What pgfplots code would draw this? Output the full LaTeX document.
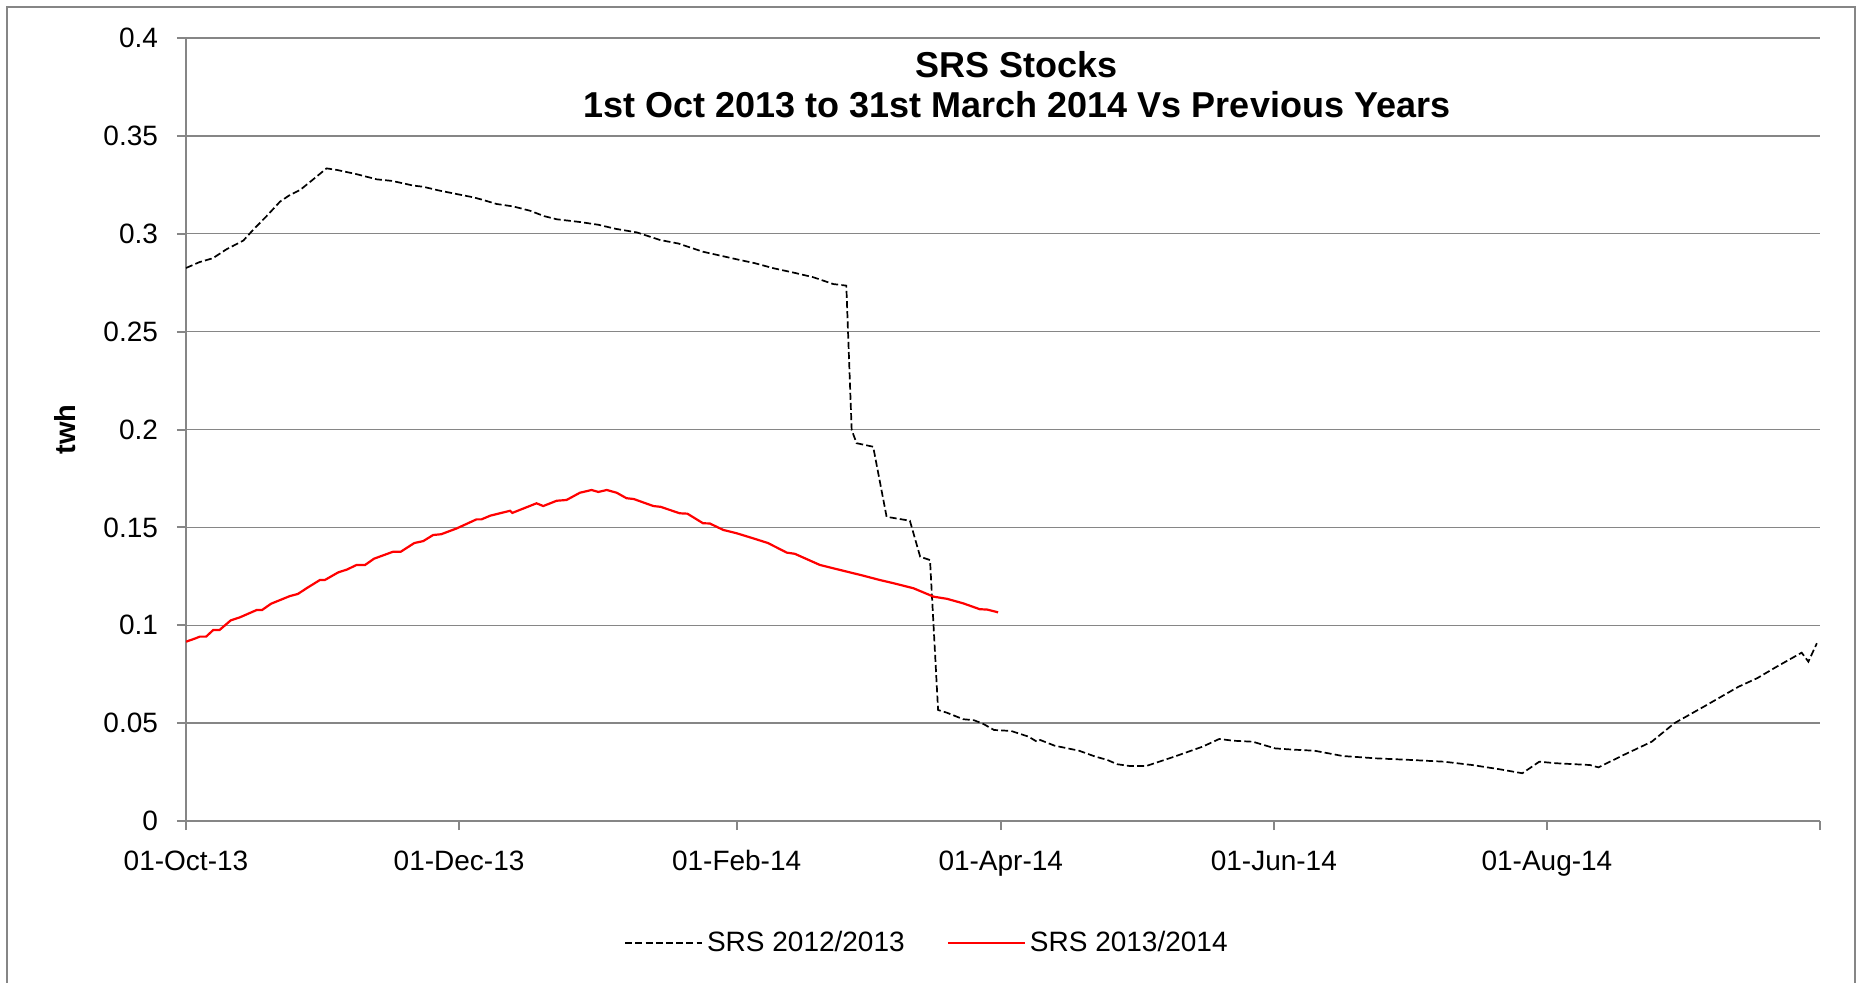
\documentclass[border=0pt]{standalone}
\usepackage{pgfplots}
\pgfplotsset{compat=1.18}
\usepackage{fontspec}
\setmainfont{Liberation Sans}
\definecolor{gridgray}{RGB}{134,134,134}
\begin{document}
\begin{tikzpicture}
\path[use as bounding box] (-93pt,-80.5pt) rectangle (837pt,410.5pt);
\draw[gridgray, line width=0.7pt] (-89.5pt,-82pt) -- (-89.5pt,407pt) -- (834.5pt,407pt) -- (834.5pt,-82pt);
\begin{axis}[
  at={(0pt,0pt)}, anchor=south west, scale only axis,
  width=817pt, height=391.5pt,
  xmin=0, xmax=365, ymin=0, ymax=0.4,
  axis x line*=bottom, axis y line*=left,
  axis line style={gridgray, line width=1.2pt},
  ymajorgrids, grid style={gridgray, line width=0.7pt},
  tick align=outside, major tick length=4.5pt,
  major tick style={gridgray, line width=1pt},
  xtick={0,61,123,182,243,304,365},
  xticklabels={01-Oct-13,01-Dec-13,01-Feb-14,01-Apr-14,01-Jun-14,01-Aug-14,},
  ytick={0,0.05,0.1,0.15,0.2,0.25,0.3,0.35,0.4},
  yticklabels={0,0.05,0.1,0.15,0.2,0.25,0.3,0.35,0.4},
  tick label style={font=\fontsize{14}{16}\selectfont},
  xticklabel style={anchor=base, yshift=-20pt},
  yticklabel style={xshift=-6pt},
  ylabel={twh},
  ylabel style={at={(axis description cs:-0.074,0.5)}, anchor=center, font=\bfseries\fontsize{14.5}{16}\selectfont},
  legend style={at={(0.4541,-0.1558)}, anchor=center, draw=none, fill=none,
    font=\fontsize{14}{16}\selectfont,
    /tikz/every even column/.append style={column sep=19pt}},
  legend columns=2,
  legend image code/.code={\draw[#1] (0pt,0pt) -- (38.5pt,0pt);},
]
\addplot[black, line width=0.85pt, dash pattern=on 3.5pt off 1.6pt] coordinates {
(0,0.2825) (3,0.2855) (6,0.2875) (9,0.292) (12.8,0.2965) (15,0.302) (18,0.309) (21,0.3164) (23,0.3195) (25.5,0.3224) (28,0.327) (31.4,0.3334) (33.7,0.3326) (38,0.3305) (42.6,0.3278) (46,0.327) (50.8,0.3246) (53,0.324) (56.7,0.322) (60,0.3205) (64.2,0.3186) (66,0.3175) (69.4,0.3152) (73,0.3140) (76.8,0.3118) (80,0.309) (82.8,0.3074) (88,0.306) (92.1,0.3046) (96,0.3025) (100.7,0.3007) (105.9,0.2968) (110,0.295) (115.5,0.2908) (120,0.2885) (123.7,0.2866) (127,0.285) (131.2,0.2824) (136,0.2800) (140.1,0.2778) (144.6,0.2743) (147.5,0.2735) (148.7,0.1997) (149.8,0.193) (153.5,0.1912) (156.5,0.1554) (161.7,0.1534) (164,0.135) (166.2,0.1333) (168,0.0567) (170,0.0553) (173.6,0.052) (176,0.0515) (178.1,0.0496) (180.5,0.0465) (184.3,0.046) (188.2,0.0431) (190.1,0.0405) (190.8,0.0414) (194,0.0385) (199.5,0.0359) (203,0.033) (205.8,0.0312) (208,0.029) (210.8,0.0281) (214.5,0.0281) (217,0.030) (220.8,0.0329) (227.1,0.038) (230.8,0.0419) (234,0.041) (238.3,0.0405) (243.3,0.0371) (247,0.0365) (252.1,0.0359) (258.4,0.0332) (265.9,0.032) (273.5,0.0312) (281,0.0303) (287.3,0.0286) (293.5,0.0264) (298.5,0.0244) (302.3,0.0303) (306.1,0.0295) (313.6,0.0286) (315.5,0.0274) (321.1,0.0337) (327.4,0.0405) (332.5,0.05) (339.5,0.059) (346.8,0.0686) (351,0.073) (355.3,0.0788) (360.9,0.086) (362.4,0.0814) (364.3,0.0908)
};
\addlegendentry{SRS 2012/2013}
\addplot[red, line width=1.1pt] coordinates {
(0,0.0916) (2,0.0932) (3.1,0.0942) (4.5,0.0942) (6.1,0.0976) (7.5,0.0976) (10,0.1025) (12,0.1040) (15.8,0.1078) (17,0.1078) (19,0.111) (23.2,0.1149) (25,0.1160) (27,0.119) (29.9,0.1231) (31,0.1231) (34,0.127) (36,0.1285) (38.1,0.1308) (40,0.1308) (42,0.134) (46.3,0.1376) (48,0.1376) (51,0.142) (53,0.1430) (55.2,0.1461) (57,0.1465) (60.5,0.1495) (64.9,0.1541) (66,0.1541) (68,0.156) (72.4,0.1585) (72.9,0.1574) (78.3,0.1623) (79.8,0.1609) (82.8,0.1636) (85,0.1640) (88,0.1677) (90.6,0.1691) (92.1,0.1681) (94,0.1691) (96.2,0.1677) (98.4,0.1649) (100,0.1645) (104.4,0.1609) (106,0.1605) (110.3,0.1572) (112,0.1570) (115.5,0.1521) (117,0.1520) (120,0.1487) (123,0.1470) (126.7,0.1444) (130,0.1420) (134.2,0.1371) (136,0.1365) (141.6,0.1308) (147.6,0.1274) (151,0.1255) (155,0.1231) (158,0.1215) (162.5,0.1189) (167,0.1146) (170,0.1135) (173.6,0.1112) (177.3,0.1082) (179,0.1080) (181.4,0.1066)
};
\addlegendentry{SRS 2013/2014}
\end{axis}
\node[anchor=base, font=\bfseries\fontsize{18}{21}\selectfont] at (415.5pt,371.5pt) {SRS Stocks};
\node[anchor=base, font=\bfseries\fontsize{18}{21}\selectfont] at (415.5pt,351.5pt) {1st Oct 2013 to 31st March 2014 Vs Previous Years};
\end{tikzpicture}
\end{document}
